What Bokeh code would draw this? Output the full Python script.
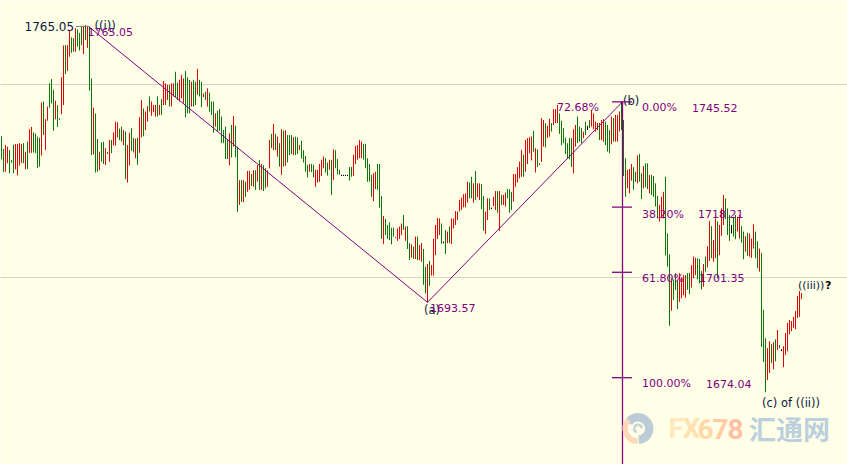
from bokeh.plotting import figure
from bokeh.embed import file_html
from bokeh.resources import INLINE
from bokeh.models import Range1d, FixedTicker
from bokeh.core.properties import value

# ---- data: one OHLC-style range per session ----
bar_high = [
 1736.6,1733.3,1734.3,1733.9,1733.0,1730.4,1734.4,1734.6,1734.6,1734.8,
 1734.6,1734.8,1732.6,1735.2,1738.4,1739.0,1737.6,1737.3,1736.5,1736.2,
 1745.3,1745.6,1741.0,1744.3,1750.3,1751.4,1748.6,1745.8,1744.6,1741.2,
 1751.9,1760.1,1760.2,1760.2,1763.9,1762.2,1762.0,1764.6,1764.3,1763.4,
 1765.0,1765.2,1765.4,1765.2,1765.0,1751.6,1744.0,1742.5,1735.9,1732.6,
 1735.0,1735.2,1733.5,1732.5,1735.6,1735.6,1737.6,1740.4,1740.2,1738.6,
 1739.1,1738.2,1737.8,1734.3,1737.5,1738.7,1736.2,1736.0,1736.2,1741.5,
 1746.0,1743.8,1743.0,1744.4,1746.9,1745.6,1744.7,1744.7,1746.9,1744.7,
 1746.2,1750.9,1750.3,1749.9,1749.9,1750.3,1750.3,1753.3,1750.5,1751.2,
 1752.5,1751.6,1753.5,1751.9,1751.2,1750.7,1751.2,1750.7,1754.0,1751.2,
 1750.7,1747.7,1748.1,1749.0,1747.9,1745.6,1745.6,1742.5,1743.2,1743.6,
 1741.7,1738.2,1739.1,1735.6,1737.3,1739.5,1741.8,1739.3,1733.9,1725.2,
 1725.2,1725.2,1724.8,1727.6,1727.6,1726.8,1727.8,1727.8,1729.1,1730.4,
 1729.4,1729.1,1728.3,1727.8,1735.6,1737.2,1739.8,1737.2,1736.5,1734.8,
 1738.4,1738.1,1738.1,1736.9,1736.9,1736.9,1736.3,1736.5,1736.3,1734.3,
 1735.4,1733.0,1731.5,1729.2,1729.4,1729.4,1729.2,1727.9,1727.9,1729.4,
 1730.5,1731.3,1730.9,1729.8,1730.5,1730.5,1733.2,1733.0,1730.7,1727.9,
 1726.6,1726.6,1726.6,1726.6,1728.6,1728.6,1731.8,1734.1,1734.3,1735.6,
 1735.2,1734.6,1734.6,1730.9,1729.4,1726.6,1727.0,1727.4,1729.4,1729.4,
 1721.1,1715.9,1715.2,1713.6,1714.3,1712.9,1712.9,1710.4,1712.7,1713.2,
 1714.0,1716.2,1713.2,1713.3,1708.9,1708.6,1708.0,1710.6,1710.6,1708.4,
 1708.9,1707.4,1702.8,1703.5,1704.3,1703.2,1710.0,1713.6,1715.4,1715.3,
 1714.0,1709.3,1712.3,1711.9,1713.2,1715.3,1715.3,1717.2,1717.1,1720.1,
 1720.7,1721.6,1721.8,1724.8,1724.6,1726.1,1724.4,1727.6,1724.4,1724.4,
 1724.2,1721.1,1717.1,1720.5,1720.5,1718.1,1720.9,1722.4,1722.4,1722.4,
 1721.4,1721.4,1722.0,1722.9,1722.9,1722.2,1726.8,1726.8,1728.6,1730.0,
 1733.0,1731.8,1735.6,1736.1,1736.3,1736.5,1738.0,1733.5,1733.2,1729.5,
 1741.3,1740.8,1740.0,1739.3,1741.1,1740.0,1743.6,1743.6,1744.7,1742.5,
 1740.6,1738.7,1736.2,1734.8,1736.1,1736.1,1738.4,1739.5,1741.7,1739.1,
 1738.7,1737.8,1740.4,1739.3,1740.8,1743.4,1742.5,1740.4,1740.0,1740.0,
 1740.8,1741.0,1740.4,1739.5,1738.2,1741.7,1741.3,1742.1,1742.1,1743.0,
 1745.6,1740.8,1730.9,1727.9,1728.1,1729.4,1728.6,1727.4,1731.6,1732.0,
 1727.0,1728.9,1729.6,1729.6,1726.6,1726.6,1726.3,1724.4,1721.1,1718.8,
 1720.9,1722.2,1726.1,1711.4,1706.0,1699.8,1699.5,1701.1,1699.3,1701.1,
 1700.0,1700.6,1700.6,1701.1,1701.2,1703.2,1705.4,1705.1,1705.0,1704.8,
 1701.7,1703.5,1705.4,1708.1,1714.6,1713.3,1709.7,1715.3,1714.5,1713.6,
 1717.9,1721.4,1720.5,1717.9,1716.2,1713.6,1715.7,1716.2,1715.7,1716.2,
 1713.3,1711.9,1710.7,1711.6,1711.4,1710.1,1713.8,1711.9,1709.4,1707.5,
 1706.4,1691.6,1684.3,1681.7,1683.5,1682.7,1683.2,1684.0,1686.4,1682.5,
 1681.4,1682.2,1685.6,1688.2,1689.0,1688.7,1689.8,1691.3,1695.2,1696.5,
 1696.0]
bar_low = [
 1730.6,1727.3,1727.4,1729.6,1727.0,1729.7,1727.0,1728.0,1726.5,1729.0,
 1729.7,1729.6,1728.0,1728.1,1732.3,1732.3,1732.4,1732.2,1728.4,1728.7,
 1731.6,1736.9,1733.0,1740.6,1744.0,1745.1,1738.0,1741.0,1739.0,1740.9,
 1742.3,1744.7,1752.7,1753.5,1757.2,1758.2,1758.5,1758.5,1759.8,1758.8,
 1760.2,1757.9,1761.5,1759.5,1748.4,1731.7,1731.9,1727.2,1727.4,1727.8,
 1730.0,1729.4,1729.1,1732.0,1730.0,1732.2,1734.2,1734.2,1736.3,1735.6,
 1735.2,1734.3,1725.5,1724.6,1729.0,1732.8,1732.4,1730.9,1729.2,1732.3,
 1736.3,1736.6,1738.2,1740.4,1743.0,1741.9,1742.8,1741.7,1741.7,1742.1,
 1742.1,1744.7,1744.7,1746.0,1744.3,1744.3,1746.9,1746.7,1746.0,1745.6,
 1746.4,1745.1,1741.5,1742.5,1742.5,1744.3,1744.3,1744.7,1747.3,1746.9,
 1744.1,1746.7,1746.0,1744.3,1743.0,1742.1,1737.5,1739.1,1737.8,1738.0,
 1734.8,1734.8,1730.7,1730.7,1729.1,1731.1,1733.9,1731.1,1717.0,1718.8,
 1719.6,1719.5,1720.9,1722.2,1722.7,1723.7,1723.5,1722.7,1724.8,1722.7,
 1722.7,1722.4,1723.1,1723.5,1728.3,1733.5,1733.0,1733.0,1731.3,1728.7,
 1726.6,1728.7,1728.9,1729.8,1731.7,1732.0,1731.7,1731.7,1732.0,1733.0,
 1730.8,1729.8,1727.4,1725.9,1727.4,1727.3,1725.9,1723.5,1724.6,1724.8,
 1726.3,1728.3,1727.2,1726.4,1727.9,1721.4,1725.3,1728.3,1726.7,1726.6,
 1726.3,1726.3,1726.3,1726.3,1725.1,1726.1,1726.3,1729.4,1730.5,1730.9,
 1730.9,1730.5,1728.3,1724.8,1724.8,1720.9,1719.8,1722.9,1722.7,1718.1,
 1710.0,1708.7,1711.0,1710.0,1709.7,1708.6,1710.6,1710.2,1709.5,1710.0,
 1711.0,1712.3,1709.5,1707.4,1704.5,1705.1,1704.8,1704.8,1704.5,1704.5,
 1704.1,1698.1,1695.9,1693.5,1697.8,1700.5,1700.5,1705.8,1710.0,1711.0,
 1708.7,1708.9,1706.1,1708.9,1708.9,1708.7,1712.7,1713.6,1714.9,1717.1,
 1717.5,1718.2,1718.2,1719.4,1720.5,1720.5,1719.4,1720.1,1720.8,1720.1,
 1717.7,1712.1,1711.3,1714.9,1717.5,1717.7,1718.5,1717.5,1716.8,1712.1,
 1718.8,1718.8,1718.4,1720.5,1716.8,1717.5,1719.7,1723.5,1724.6,1725.7,
 1726.1,1726.1,1727.4,1729.4,1732.2,1730.3,1732.6,1727.2,1728.6,1729.2,
 1730.0,1733.9,1733.7,1736.1,1736.5,1737.8,1739.5,1740.0,1740.0,1737.2,
 1734.3,1734.8,1732.0,1730.9,1730.6,1728.6,1727.0,1733.9,1734.8,1735.2,
 1734.8,1736.1,1736.9,1738.2,1738.7,1739.1,1738.4,1737.8,1738.2,1735.6,
 1735.6,1735.2,1734.3,1732.6,1732.2,1734.5,1735.2,1735.2,1735.2,1737.8,
 1738.2,1726.3,1720.9,1723.1,1721.8,1725.1,1722.7,1724.8,1724.4,1724.8,
 1720.3,1723.1,1723.4,1722.9,1721.8,1721.4,1720.9,1718.4,1715.3,1714.5,
 1715.5,1715.3,1705.7,1702.8,1687.5,1691.4,1694.2,1696.8,1691.8,1693.7,
 1694.6,1695.4,1694.8,1696.8,1695.7,1697.4,1699.8,1700.6,1699.5,1698.5,
 1696.9,1697.6,1701.5,1702.6,1704.3,1705.0,1704.1,1705.0,1699.8,1705.8,
 1710.8,1713.6,1715.1,1711.0,1709.5,1711.4,1710.6,1709.9,1711.9,1710.1,
 1709.0,1704.7,1706.7,1705.6,1705.4,1705.1,1707.5,1705.0,1702.4,1701.5,
 1682.0,1678.1,1670.3,1673.4,1675.3,1677.8,1676.2,1678.3,1681.2,1681.7,
 1680.9,1676.8,1679.9,1680.9,1685.3,1686.1,1687.0,1686.6,1689.5,1689.8,
 1694.4]
# R = up session, G = down session, K = doji
bar_dir = "".join([
 "GGRRGGGRRR","RGRGRRGGGG","RGRRGGGRGK","RRGRRGGRGG","GRGRGGRGGR",
 "GGRGRGRRRG","GRGRRGGRGR","RGRRGRRRGR","GRRRGRRGGR","RRGGGRGGRG",
 "GRGRGGGRGG","GGGGRGRGGR","GRGRRGRGRG","RGGRRGRGRG","RGRGGGRGGR",
 "GGGGRGGRRR","RRGGRGRGGG","KKKKGGRRRR","RGGGGGRRGG","GRGGGGGKRR",
 "RGRGGRGRGR","RGGRGRRRRR","GKGRGRRRRR","RRRRGGRGRR","GGRRGKRRGR",
 "GRRGGGRRRR","RGRRRRGRGK","RRGRRGRRRG","GGGGGGRRGG","GRGKGRRRRG",
 "RRGGGRGRRR","GGGRRRGGRG","GRGGRGGGGR","RRGGGRGGGR","RRRGGRRRGG",
 "GRGRRGRRGR","RRGGGKGGRR","GGRGRRRGGR","GGGRRGRGRG","KRRRRRRRRRR"])

grid_levels = [1700, 1750]
pivot_index = [43.5, 213, 310.5]
pivot_price = [1765.05, 1693.57, 1745.52]
fib_pct = ["0.00%", "38.20%", "61.80%", "100.00%"]
fib_price = [1745.52, 1718.21, 1701.35, 1674.04]
retrace_label = "72.68%"

BG = "#ffffe8"
PURPLE = "#800080"
INK = "#0c1a3c"
COLORS = {"R": "#e40000", "G": "#0c760c", "K": "#000000"}

W, H = 847, 464
y_top = 1750 + 84 / 3.86
p = figure(width=W, height=H, output_backend="svg", toolbar_location=None,
           x_range=Range1d(-0.5, 423.0),
           y_range=Range1d(y_top - H / 3.86, y_top),
           min_border=0, min_border_left=0, min_border_right=0,
           min_border_top=0, min_border_bottom=0,
           background_fill_color=BG, border_fill_color=BG)
p.outline_line_color = None
p.xaxis.visible = False
p.yaxis.visible = False
p.xgrid.visible = False
p.ygrid.ticker = FixedTicker(ticks=grid_levels)
p.ygrid.grid_line_color = "#a8a8a0"
p.ygrid.grid_line_dash = "1 1"
p.ygrid.grid_line_width = 1

idx = list(range(len(bar_high)))
p.segment(x0=idx, x1=idx, y0=bar_low, y1=bar_high,
          line_color=[COLORS[d] for d in bar_dir], line_width=1)

# wave count
p.line(pivot_index, pivot_price, line_color=PURPLE, line_width=1)

# Fibonacci ladder
bottom = p.y_range.start
p.segment(x0=[pivot_index[2]], x1=[pivot_index[2]], y0=[bottom], y1=[fib_price[0]],
          line_color=PURPLE, line_width=1.3)
p.segment(x0=[pivot_index[2] - 5.25] * 4, x1=[pivot_index[2] + 4.75] * 4,
          y0=fib_price, y1=fib_price, line_color=PURPLE, line_width=1.3)

# grey marker pointing at the top
p.segment(x0=[pivot_index[0] - 6.25], x1=[pivot_index[0]], y0=[pivot_price[0]], y1=[pivot_price[0]],
          line_color="#808080", line_width=1)


def note(txt, k, price, dx, dy, color, size="11px", font="DejaVu Sans", style="normal"):
    p.text(x=[k], y=[price], text=[txt], x_offset=dx, y_offset=dy,
           text_color=color, text_font=value(font), text_font_size=value(size),
           text_font_style=style, text_align="left", text_baseline="middle")


note("1765.05", pivot_index[0], pivot_price[0], -64, 0, INK, "12px")
note("((i))", pivot_index[0], pivot_price[0], 6, 0, INK, "11.5px")
note("1765.05", pivot_index[0], pivot_price[0], -1, 6, PURPLE)
note("(a)", pivot_index[1], pivot_price[1], -3.5, 8, INK, "11.5px")
note("1693.57", pivot_index[1], pivot_price[1], 2.5, 6, PURPLE)
note("(b)", pivot_index[2], pivot_price[2], 0.5, -1, INK, "11.5px")
note(retrace_label, pivot_index[2], pivot_price[2], -65.5, 6, PURPLE)

price_dx = [69.5, 75.5, 76.5, 83.5]
fib_dy = [6, 7, 6, 6]
for pct, lvl, pdx, dy in zip(fib_pct, fib_price, price_dx, fib_dy):
    note(pct, pivot_index[2], lvl, 19.5, dy, PURPLE)
    note(f"{lvl:.2f}", pivot_index[2], lvl, pdx, dy, PURPLE)

note("(c) of ((ii))", 382, bar_low[382], -3.5, 10.5, INK, "11.5px")
note("((iii))", 400, bar_high[400], -3.5, -7, INK)
note("?", 400, bar_high[400], 23.5, -7, "#000000", "11px", "DejaVu Sans", "bold")

# watermark
wm_x, wm_y = 318.25, y_top - 428 / 3.86
p.annular_wedge(x=[wm_x], y=[wm_y], inner_radius=7, outer_radius=15.5,
                inner_radius_units="screen", outer_radius_units="screen",
                start_angle=-1.5, end_angle=2.6, fill_color="#bccbd8", line_color=None)
p.annular_wedge(x=[wm_x], y=[wm_y], inner_radius=10, outer_radius=15.5,
                inner_radius_units="screen", outer_radius_units="screen",
                start_angle=2.4, end_angle=4.7, fill_color="#ffd8b8", line_color=None)
p.annular_wedge(x=[wm_x], y=[wm_y], inner_radius=2.5, outer_radius=5,
                inner_radius_units="screen", outer_radius_units="screen",
                start_angle=0.0, end_angle=4.4, fill_color="#c8d4dc", line_color=None)

for ch, dx, col in zip("FX678", [30.5, 44.5, 59.5, 74.5, 89.5],
                       ["#ffe8bc", "#ffe2b2", "#ffd8a8", "#ffcba4", "#ffbfa4"]):
    note(ch, wm_x, wm_y, dx, 0, col, "28px", "Roboto", "bold")
note("汇通网", wm_x, wm_y, 111, 0, "#bccfdc", "27px", "Noto Sans CJK SC", "bold")

open("out.html", "w").write(file_html(p, INLINE))
